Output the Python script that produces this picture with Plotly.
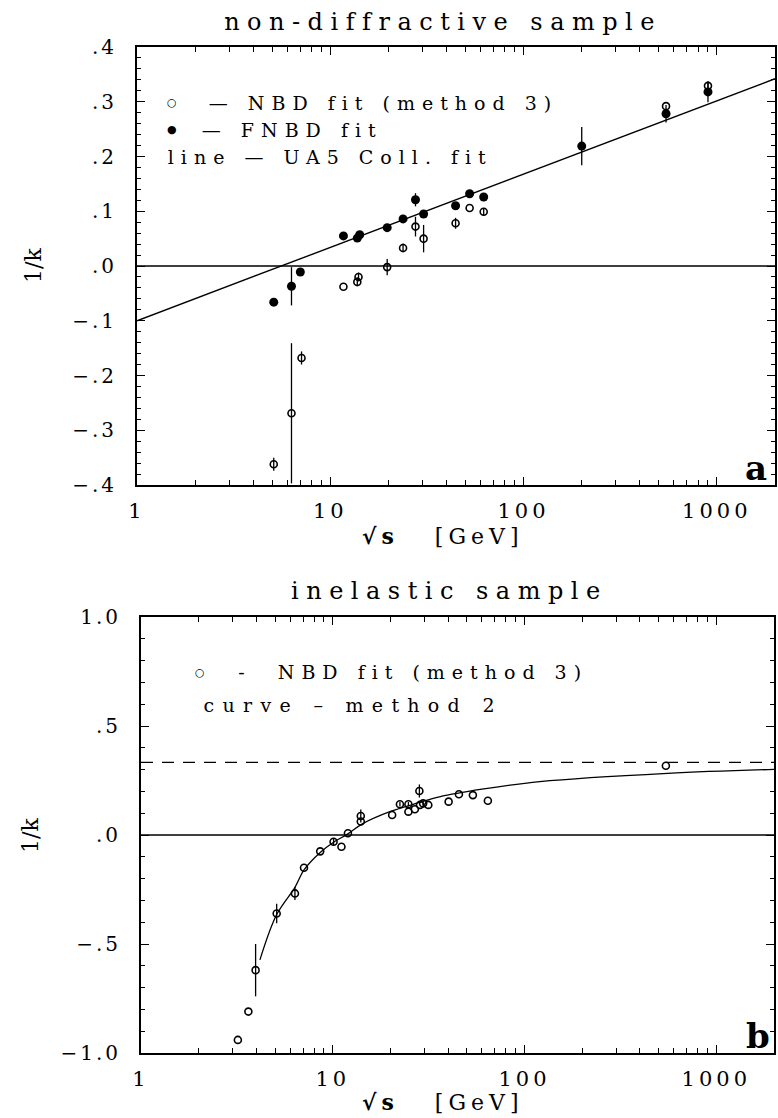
import math
import plotly.graph_objects as go

# ---------------- panel a : non-diffractive sample ----------------
a_fnbd_x = [5.1, 6.3, 7.0, 11.7, 13.8, 14.2, 19.7, 23.8, 27.6, 30.4, 44.5, 52.6, 62.2, 200, 546, 900]
a_fnbd_y = [-0.066, -0.037, -0.011, 0.055, 0.051, 0.057, 0.070, 0.086, 0.121, 0.095, 0.110, 0.132, 0.126, 0.219, 0.278, 0.318]
a_fnbd_err = [0, 0.035, 0, 0, 0, 0, 0, 0, 0.012, 0, 0, 0, 0, 0.035, 0.016, 0.019]

a_nbd_x = [5.1, 6.3, 7.1, 11.7, 13.8, 14.0, 19.7, 23.8, 27.6, 30.4, 44.5, 52.6, 62.2, 546, 900]
a_nbd_y = [-0.362, -0.269, -0.168, -0.038, -0.029, -0.020, -0.002, 0.033, 0.072, 0.050, 0.078, 0.106, 0.099, 0.292, 0.329]
a_nbd_err = [0.012, 0.128, 0.012, 0, 0.008, 0.008, 0.015, 0.008, 0.018, 0.025, 0.010, 0, 0.006, 0, 0.008]

a_line_x = [1, 2000]          # UA5 Coll. fit (straight line in log sqrt(s))
a_line_y = [-0.100, 0.342]
a_zero_y = 0.0

a_ytick_vals = [-0.4, -0.3, -0.2, -0.1, 0.0, 0.1, 0.2, 0.3, 0.4]
a_ytick_text = ["\u2212.4", "\u2212.3", "\u2212.2", "\u2212.1", ".0", ".1", ".2", ".3", ".4"]

# ---------------- panel b : inelastic sample ----------------
b_x = [3.2, 3.63, 3.96, 5.1, 6.35, 7.08, 8.6, 10.1, 11.1, 12.0, 14.0, 14.0, 20.4, 22.4, 24.8, 24.8,
       26.8, 28.3, 28.5, 29.6, 31.5, 40.2, 45.5, 53.8, 64.4, 546]
b_y = [-0.94, -0.81, -0.62, -0.36, -0.268, -0.15, -0.075, -0.031, -0.054, 0.008, 0.087, 0.062, 0.092, 0.141,
       0.141, 0.107, 0.118, 0.202, 0.138, 0.145, 0.138, 0.153, 0.187, 0.183, 0.157, 0.318]
b_err = [0, 0, 0.12, 0.045, 0.03, 0, 0, 0.015, 0, 0, 0.03, 0, 0, 0.01, 0.01, 0, 0, 0.03, 0, 0.01,
         0, 0, 0, 0, 0, 0]

b_curve_x = [4.17, 5.1, 6.35, 7.08, 8.6, 10.1, 12.0, 14.2, 20, 28, 36, 60, 120, 557, 2000]
b_curve_y = [-0.573, -0.365, -0.24, -0.16, -0.08, -0.033, 0.005, 0.05, 0.108, 0.148, 0.175, 0.21, 0.245, 0.283, 0.301]
b_zero_y = 0.0
b_limit_y = 0.333

b_ytick_vals = [-1.0, -0.5, 0.0, 0.5, 1.0]
b_ytick_text = ["\u22121.0", "\u2212.5", ".0", ".5", "1.0"]

x_tick_vals = [1, 10, 100, 1000]
x_tick_text = ["1", "10", "100", "1000"]
x_max = 2000

# ---------------- layout helpers ----------------
W, H = 778, 1118
FONT = "DejaVu Serif"


def fx(p):
    return p / W


def fy(p):
    return 1 - p / H


minor_x = [m * 10 ** e for e in range(4) for m in range(2, 10) if m * 10 ** e <= x_max]

fig = go.Figure()

err_style = dict(type="data", visible=True, width=0, thickness=1.3, color="black")

# panel a
fig.add_trace(go.Scatter(x=a_line_x, y=a_line_y, mode="lines", line=dict(color="black", width=1.4),
                         xaxis="x", yaxis="y", showlegend=False, hoverinfo="skip"))
fig.add_trace(go.Scatter(x=a_nbd_x, y=a_nbd_y, mode="markers", name="NBD fit (method 3)",
                         marker=dict(symbol="circle-open", size=7, color="black", line=dict(width=1.6)),
                         error_y=dict(err_style, array=a_nbd_err),
                         xaxis="x", yaxis="y", showlegend=False))
fig.add_trace(go.Scatter(x=a_fnbd_x, y=a_fnbd_y, mode="markers", name="FNBD fit",
                         marker=dict(symbol="circle", size=9, color="black"),
                         error_y=dict(err_style, array=a_fnbd_err),
                         xaxis="x", yaxis="y", showlegend=False))

# panel b
fig.add_trace(go.Scatter(x=b_curve_x, y=b_curve_y, mode="lines",
                         line=dict(color="black", width=1.3, shape="spline"),
                         xaxis="x2", yaxis="y2", showlegend=False, hoverinfo="skip"))
fig.add_trace(go.Scatter(x=b_x, y=b_y, mode="markers", name="NBD fit (method 3)",
                         marker=dict(symbol="circle-open", size=7, color="black", line=dict(width=1.6)),
                         error_y=dict(err_style, array=b_err),
                         xaxis="x2", yaxis="y2", showlegend=False))

# reference lines
fig.add_shape(type="line", xref="x domain", yref="y", x0=0, x1=1, y0=a_zero_y, y1=a_zero_y,
              line=dict(color="black", width=1.3))
fig.add_shape(type="line", xref="x2 domain", yref="y2", x0=0, x1=1, y0=b_zero_y, y1=b_zero_y,
              line=dict(color="black", width=1.3))
fig.add_shape(type="line", xref="x2 domain", yref="y2", x0=0, x1=1, y0=b_limit_y, y1=b_limit_y,
              line=dict(color="black", width=1.3, dash="12px,9px"))

xtickfont = dict(family=FONT, size=21, color="black")
ytickfont = dict(family=FONT, size=20, color="black")
common_x = dict(type="log", range=[0, math.log10(x_max)], tickmode="array", tickvals=x_tick_vals,
                ticktext=x_tick_text, ticks="inside", ticklen=8, tickwidth=1.2, tickcolor="black",
                showline=True, linecolor="black", linewidth=2, mirror="ticks", showgrid=False,
                zeroline=False, tickfont=xtickfont, ticklabelstandoff=6, automargin=False,
                minor=dict(tickmode="array", tickvals=minor_x, ticks="inside", ticklen=5, tickwidth=1,
                           tickcolor="black", showgrid=False))
common_y = dict(tickmode="array", ticks="inside", ticklen=8, tickwidth=1.2, tickcolor="black",
                showline=True, linecolor="black", linewidth=2, mirror="ticks", showgrid=False,
                zeroline=False, tickfont=ytickfont, ticklabelstandoff=14, automargin=False)

fig.update_layout(
    width=W, height=H, margin=dict(l=0, r=0, t=0, b=0),
    paper_bgcolor="white", plot_bgcolor="white", showlegend=False,
    xaxis=dict(common_x, domain=[fx(137), fx(775)], anchor="y"),
    yaxis=dict(common_y, domain=[fy(485), fy(47)], range=[-0.4, 0.4], tickvals=a_ytick_vals,
               ticktext=a_ytick_text, anchor="x",
               minor=dict(dtick=0.02, ticks="inside", ticklen=4, tickwidth=1, tickcolor="black", showgrid=False)),
    xaxis2=dict(common_x, domain=[fx(141), fx(774)], anchor="y2"),
    yaxis2=dict(common_y, domain=[fy(1053), fy(617)], range=[-1.0, 1.0], tickvals=b_ytick_vals,
                ticktext=b_ytick_text, anchor="x2",
                minor=dict(dtick=0.1, ticks="inside", ticklen=4, tickwidth=1, tickcolor="black", showgrid=False)),
)

ann_font = dict(family=FONT, size=19, color="black")
sym_font = dict(family="DejaVu Sans", size=11, color="black")
title_font = dict(family=FONT, size=24, color="black")
xtitle_font = dict(family=FONT, size=22, color="black")
annotations = [
    # 0-1 panel titles
    dict(text="non-diffractive sample", x=fx(443), y=fy(22), font=title_font),
    dict(text="inelastic sample", x=fx(449), y=fy(591), font=title_font),
    # 2-6 legend texts
    dict(text="\u2014 NBD fit (method 3)", x=fx(383), y=fy(103), font=ann_font),
    dict(text="\u2014 FNBD fit", x=fx(292), y=fy(130), font=ann_font),
    dict(text="line \u2014 UA5 Coll. fit", x=fx(330), y=fy(157), font=ann_font),
    dict(text="-  NBD fit (method 3)", x=fx(413), y=fy(672), font=ann_font),
    dict(text="curve \u2013 method 2", x=fx(353), y=fy(705), font=ann_font),
    # 7-9 legend symbols
    dict(text="\u25cb", x=fx(172), y=fy(103), font=sym_font),
    dict(text="\u25cf", x=fx(172), y=fy(130), font=sym_font),
    dict(text="\u25cb", x=fx(200), y=fy(672), font=sym_font),
    # 10-11 x titles
    dict(text="<b>\u221as</b>   [GeV]", x=fx(443), y=fy(536), font=xtitle_font),
    dict(text="<b>\u221as</b>   [GeV]", x=fx(443), y=fy(1102), font=xtitle_font),
    # 12-13 y titles
    dict(text="1/k", x=fx(33), y=fy(266), textangle=-90, font=dict(family=FONT, size=22, color="black")),
    dict(text="1/k", x=fx(30), y=fy(836), textangle=-90, font=dict(family=FONT, size=22, color="black")),
    # 14-15 panel letters
    dict(text="<b>a</b>", x=fx(756), y=fy(468), font=dict(family=FONT, size=34, color="black")),
    dict(text="<b>b</b>", x=fx(758), y=fy(1036), font=dict(family=FONT, size=34, color="black")),
]
for a in annotations:
    a.update(xref="paper", yref="paper", xanchor="center", yanchor="middle", showarrow=False)
fig.update_layout(annotations=annotations)


def sel(idx):
    return ",".join('.annotation[data-index="%d"] text' % i for i in idx)


css = (sel([0, 1]) + "{letter-spacing:7.5px}"
       + sel([2, 3, 4, 5]) + "{letter-spacing:7px}"
       + sel([6]) + "{letter-spacing:8.3px}"
       + sel([10, 11]) + "{letter-spacing:5px}"
       + ".xtick text,.x2tick text{letter-spacing:4px}"
       + ".ytick text,.y2tick text{letter-spacing:3px}")
post = ("var s=document.createElement('style');s.textContent=\"" + css.replace('"', '\\"') + "\";"
        "document.head.appendChild(s);document.body.style.margin='0';document.body.style.overflow='hidden';")

fig.write_html("out.html", post_script=post, config={"displayModeBar": False})
